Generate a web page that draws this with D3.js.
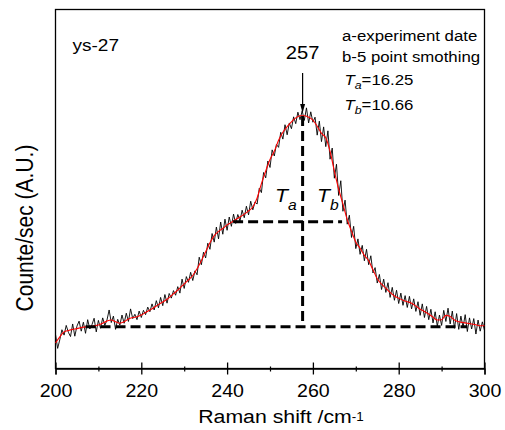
<!DOCTYPE html>
<html>
<head>
<meta charset="utf-8">
<script src="https://cdn.jsdelivr.net/npm/d3@7"></script>
<style>
  body { margin: 0; background: #fff; }
  svg { display: block; }
  text { font-family: "Liberation Sans", Arial, Helvetica, sans-serif; fill: #000; }
</style>
</head>
<body>
<div id="chart"></div>
<script>
// raw spectrum, one value every 0.5 cm-1 from 200 to 300
var rawCounts = [
  9.5, 5.6, 8.0, 10.8, 9.3, 12.0, 10.1, 8.9, 12.4, 9.0,
  11.8, 13.2, 10.4, 12.9, 9.8, 13.6, 11.0, 12.2, 14.0, 10.2,
  13.4, 11.2, 14.1, 12.0, 13.5, 16.3, 12.8, 14.6, 10.9, 13.7,
  12.1, 14.9, 12.6, 15.4, 13.1, 16.6, 13.9, 15.1, 13.6, 16.0,
  14.2, 16.2, 15.0, 17.1, 15.8, 18.0, 16.3, 18.9, 16.9, 19.8,
  17.5, 20.6, 18.2, 20.9, 19.6, 21.7, 20.4, 22.8, 21.0, 24.9,
  22.3, 25.6, 24.0, 26.8, 24.5, 27.2, 26.1, 31.0, 28.9, 32.4,
  30.8, 34.9, 33.2, 37.6, 35.2, 39.4, 36.1, 40.8, 37.4, 41.6,
  38.5, 42.2, 39.6, 43.0, 40.4, 42.9, 41.1, 44.1, 42.0, 45.2,
  42.8, 46.6, 44.2, 46.4, 45.8, 50.2, 49.0, 54.6, 53.1, 57.8,
  56.0, 60.9, 59.2, 62.4, 61.6, 65.8, 63.9, 67.9, 65.1, 68.4,
  66.8, 70.1, 68.2, 71.4, 69.3, 71.8, 69.1, 72.6, 68.4, 71.5,
  68.6, 70.0, 65.0, 68.9, 63.2, 67.3, 61.8, 66.2, 58.3, 61.4,
  53.0, 56.9, 48.2, 52.3, 43.8, 46.9, 40.2, 42.7, 36.5, 39.6,
  33.4, 36.1, 31.8, 34.3, 30.0, 33.2, 28.9, 31.4, 26.6, 28.1,
  23.8, 26.2, 22.0, 24.9, 21.2, 23.9, 19.8, 22.6, 19.0, 21.8,
  18.1, 21.0, 17.6, 20.3, 17.0, 20.1, 16.6, 19.4, 15.9, 18.6,
  14.8, 18.0, 14.2, 17.3, 13.6, 16.5, 12.7, 15.8, 11.8, 14.9,
  12.0, 16.2, 13.1, 16.8, 12.4, 16.0, 11.2, 15.3, 10.9, 14.6,
  11.5, 15.0, 10.3, 14.1, 11.0, 13.9, 9.6, 13.5, 10.4, 13.0,
  10.6
];

// 5 point smoothing, one value every 1 cm-1
var smoothCounts = [
  7.1, 8.8, 10.2, 10.6, 10.9, 11.1, 11.4, 11.6, 11.7, 11.9,
  12.1, 12.6, 13.2, 13.5, 13.0, 12.6, 13.0, 13.8, 14.2, 14.4,
  14.9, 15.6, 16.3, 17.0, 17.8, 18.5, 19.3, 20.3, 21.3, 22.4,
  23.6, 24.7, 25.9, 27.8, 30.0, 32.5, 35.0, 37.0, 38.2, 39.0,
  40.0, 40.7, 41.5, 42.2, 43.0, 43.9, 45.0, 47.5, 51.5, 55.0,
  58.2, 60.5, 63.6, 65.8, 67.4, 68.7, 69.8, 70.4, 70.4, 70.0,
  69.2, 67.5, 65.5, 64.3, 60.5, 55.0, 50.0, 45.8, 41.5, 38.2,
  35.2, 33.5, 31.5, 30.0, 27.5, 25.0, 23.5, 22.4, 21.2, 20.2,
  19.6, 19.0, 18.6, 18.2, 17.4, 16.5, 15.9, 15.2, 14.3, 13.5,
  13.6, 14.8, 14.5, 13.5, 13.0, 12.8, 12.6, 12.4, 12.2, 11.9,
  11.9
];

var rawShift = d3.range(200, 300.25, 0.5);
var smoothShift = d3.range(200, 300.5, 1);

var xMajorTicks = [200, 220, 240, 260, 280, 300];
var xMinorTicks = [210, 230, 250, 270, 290];

// peak and width markers
var peakShift = 257.6;
var peakCount = 70.3;
var baseCount = 11.6;
var halfCount = 40.9;
var baseFrom = 207, baseTo = 296;
var halfFrom = 241.4, halfTo = 266.8;
var arrowTop = 82.3;

var legendLines = ["a-experiment date", "b-5 point smothing"];
var widthLabels = [["a", "16.25"], ["b", "10.66"]];

var sx = 1.12; // text in the original is a bit stretched sideways

var margin = {top: 9.5, right: 20.5, bottom: 61.5, left: 55.5},
    width = 505 - margin.left - margin.right,
    height = 430 - margin.top - margin.bottom;

var svg = d3.select("#chart")
  .append("svg")
    .attr("width", 505)
    .attr("height", 430)
  .append("g")
    .attr("transform", "translate(" + margin.left + "," + margin.top + ")");

var x = d3.scaleLinear().domain([200, 300]).range([0, width]);
var y = d3.scaleLinear().domain([0, 100]).range([height, 0]);

// frame
svg.append("rect")
  .attr("width", width)
  .attr("height", height)
  .attr("fill", "none")
  .attr("stroke", "#000")
  .attr("stroke-width", 1.3);

// x axis: outward ticks with labels
var xAxis = svg.append("g")
  .attr("transform", "translate(0," + height + ")")
  .call(d3.axisBottom(x).tickValues(xMajorTicks).tickSize(6).tickFormat(d3.format("d")));
xAxis.select(".domain").attr("stroke-width", 1.3);
xAxis.selectAll(".tick line").attr("stroke-width", 1.3);
xAxis.selectAll("text")
  .attr("y", 29)
  .attr("dy", 0)
  .attr("transform", "scale(" + sx + ",1)")
  .style("font-size", "17.5px")
  .style("font-family", "'Liberation Sans', Arial, sans-serif");

// inward major ticks
var xIn = svg.append("g")
  .attr("transform", "translate(0," + height + ")")
  .call(d3.axisBottom(x).tickValues(xMajorTicks).tickSize(-6).tickFormat(""));
xIn.select(".domain").remove();
xIn.selectAll(".tick line").attr("stroke-width", 1.3);

// minor ticks
var xMinor = svg.append("g")
  .attr("transform", "translate(0," + (height - 2) + ")")
  .call(d3.axisBottom(x).tickValues(xMinorTicks).tickSize(5).tickFormat(""));
xMinor.select(".domain").remove();
xMinor.selectAll(".tick line").attr("stroke-width", 1.2);

// curves
var rawData = rawShift.map(function(d, i) { return [d, rawCounts[i]]; });
var smoothData = smoothShift.map(function(d, i) { return [d, smoothCounts[i]]; });

var line = d3.line()
  .x(function(d) { return x(d[0]); })
  .y(function(d) { return y(d[1]); });

svg.append("path")
  .datum(rawData)
  .attr("fill", "none")
  .attr("stroke", "#000")
  .attr("stroke-width", 0.9)
  .attr("d", line);

svg.append("path")
  .datum(smoothData)
  .attr("fill", "none")
  .attr("stroke", "#ff0000")
  .attr("stroke-width", 1.1)
  .attr("d", line.curve(d3.curveMonotoneX));

// dashed construction lines
var dashed = [
  [[baseFrom, baseCount], [baseTo, baseCount]],
  [[halfFrom, halfCount], [halfTo, halfCount]],
  [[peakShift, peakCount], [peakShift, baseCount]]
];
svg.selectAll(".dash")
  .data(dashed)
  .enter()
  .append("path")
    .attr("class", "dash")
    .attr("fill", "none")
    .attr("stroke", "#000")
    .attr("stroke-width", 3)
    .attr("stroke-dasharray", "10,5")
    .attr("d", d3.line().x(function(d) { return x(d[0]); }).y(function(d) { return y(d[1]); }));

// arrow to the peak
var tipY = y(peakCount) - 3;
svg.append("line")
  .attr("x1", x(peakShift)).attr("x2", x(peakShift))
  .attr("y1", y(arrowTop)).attr("y2", tipY - 6)
  .attr("stroke", "#000")
  .attr("stroke-width", 1.2);
svg.append("path")
  .attr("d", "M" + (x(peakShift) - 2.5) + "," + (tipY - 9) +
             "L" + (x(peakShift) + 2.5) + "," + (tipY - 9) +
             "L" + x(peakShift) + "," + tipY + "Z")
  .attr("fill", "#000");

function label(px, py, size, anchor) {
  return svg.append("text")
    .attr("transform", "translate(" + px + "," + py + ") scale(" + sx + ",1)")
    .attr("text-anchor", anchor || "start")
    .style("font-size", size + "px");
}

label(x(peakShift), 49, 18, "middle").text("257");
label(17, 41, 17).text("ys-27");

// legend
legendLines.forEach(function(t, i) {
  label(286.5, 31 + i * 21.5, 15).text(t);
});
widthLabels.forEach(function(w, i) {
  var t = label(289, 75 + i * 25, 15);
  t.append("tspan").style("font-style", "italic").text("T");
  t.append("tspan").style("font-style", "italic").style("font-size", "11px")
    .attr("dy", 4).text(w[0]);
  t.append("tspan").attr("dy", -4).text("=" + w[1]);
});

// T labels beside the centre line
[["a", 219.5], ["b", 261.5]].forEach(function(p) {
  var t = label(p[1], 192, 19);
  t.append("tspan").style("font-style", "italic").text("T");
  t.append("tspan").style("font-style", "italic").style("font-size", "14px")
    .attr("dy", 8).text(p[0]);
});

// axis titles
var xt = label(281 - margin.left, 413.5, 19, "middle");
xt.append("tspan").text("Raman shift /cm");
xt.append("tspan").style("font-size", "12px").attr("dy", -2).text("-1");

svg.append("text")
  .attr("transform", "translate(" + (33 - margin.left) + "," + (228 - margin.top) + ") scale(" + sx + ",1) rotate(-90)")
  .attr("text-anchor", "middle")
  .style("font-size", "21px")
  .text("Counte/sec (A.U.)");
</script>
</body>
</html>
